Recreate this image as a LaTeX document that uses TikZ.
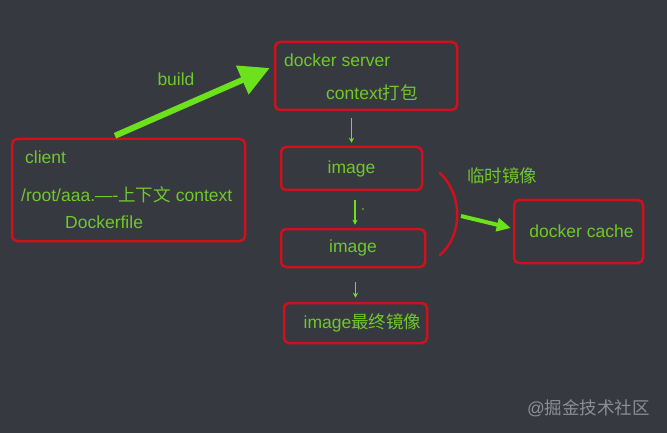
\documentclass[tikz,border=0pt]{standalone}
\usepackage{fontspec}
\setmainfont{Liberation Sans}
\newfontfamily\cjk{Noto Sans CJK SC}
\usetikzlibrary{arrows.meta}

\definecolor{bg}{RGB}{54,57,63}
\definecolor{txtgreen}{RGB}{112,200,44}
\definecolor{arrgreen}{RGB}{108,226,28}
\definecolor{boxred}{RGB}{208,16,28}
\definecolor{mark}{RGB}{140,142,146}

\begin{document}
\begin{tikzpicture}[x=1pt,y=-1pt,
  box/.style={draw=boxred,line width=2.5pt,rounded corners=5pt,inner sep=0pt,
    text=txtgreen,font=\fontsize{17.5}{20}\selectfont},
  lbl/.style={text=txtgreen,font=\fontsize{17.5}{20}\selectfont,inner sep=0pt},
  thinarrow/.style={draw=arrgreen,line width=1.3pt,-{Stealth[length=5pt,width=5pt]}},
  bigarrow/.style={draw=arrgreen,line width=6pt,-{Triangle[length=30pt,width=30pt]}}]
\useasboundingbox (0,0) rectangle (667,433);
\fill[bg] (0,0) rectangle (667,433);

% boxes
\node[box,minimum width=233pt,minimum height=102pt] (client) at (128.5,190) {};
\node[box,minimum width=182pt,minimum height=68pt] (server) at (366,76) {};
\node[box,minimum width=141pt,minimum height=43pt] (img1) at (351.5,168.5) {image};
\node[box,minimum width=144pt,minimum height=38pt] (img2) at (353,248) {image};
\node[box,minimum width=143pt,minimum height=40pt] (img3) at (355.5,323) {\hspace*{14pt}image{\cjk 最终镜像}};
\node[box,minimum width=129pt,minimum height=63pt] (cache) at (578.5,231.5) {\hspace*{6pt}docker cache};

% texts
\node[lbl] (build) at (176,79) {build};
\node[lbl,anchor=west] (cname) at (25,157) {client};
\node[lbl,anchor=west] (cpath) at (21,195) {/root/aaa.—-{\cjk 上下文} context};
\node[lbl,anchor=west] (cfile) at (65,222) {Dockerfile};
\node[lbl,anchor=west] (sname) at (284,60) {docker server};
\node[lbl,anchor=west] (spack) at (326,93) {context{\cjk 打包}};
\node[lbl] (tmp) at (502,176) {\cjk 临时镜像};
\node[text=mark,font=\fontsize{17.5}{20}\selectfont,inner sep=0pt,anchor=west] (wmark) at (527,408) {@{\cjk 掘金技术社区}};

% arrows
\draw[bigarrow] ([xshift=-13.5pt,yshift=2pt]client.north) -- ([xshift=-4pt,yshift=8pt]server.west);
\draw[thinarrow,shorten <=7pt,shorten >=3pt] (img1.north |- server.south) -- (img1.north);
\draw[thinarrow,shorten <=9pt,shorten >=3pt] ([xshift=2pt]img2.north |- img1.south) -- ([xshift=2pt]img2.north);
\draw[thinarrow,shorten <=14pt,shorten >=4pt] (img3.north |- img2.south) -- (img3.north);
\fill[arrgreen] (363,209) circle (0.8pt);

% bracket
\draw[boxred,line width=2.5pt,line cap=round] (440,173) .. controls (463,195) and (463,235) .. (440,255);
\coordinate (brk) at (461,216);
\draw[draw=arrgreen,line width=4pt,-{Triangle[length=14pt,width=13pt]},shorten >=2pt] (brk) -- ([yshift=3pt]cache.west);
\end{tikzpicture}
\end{document}
